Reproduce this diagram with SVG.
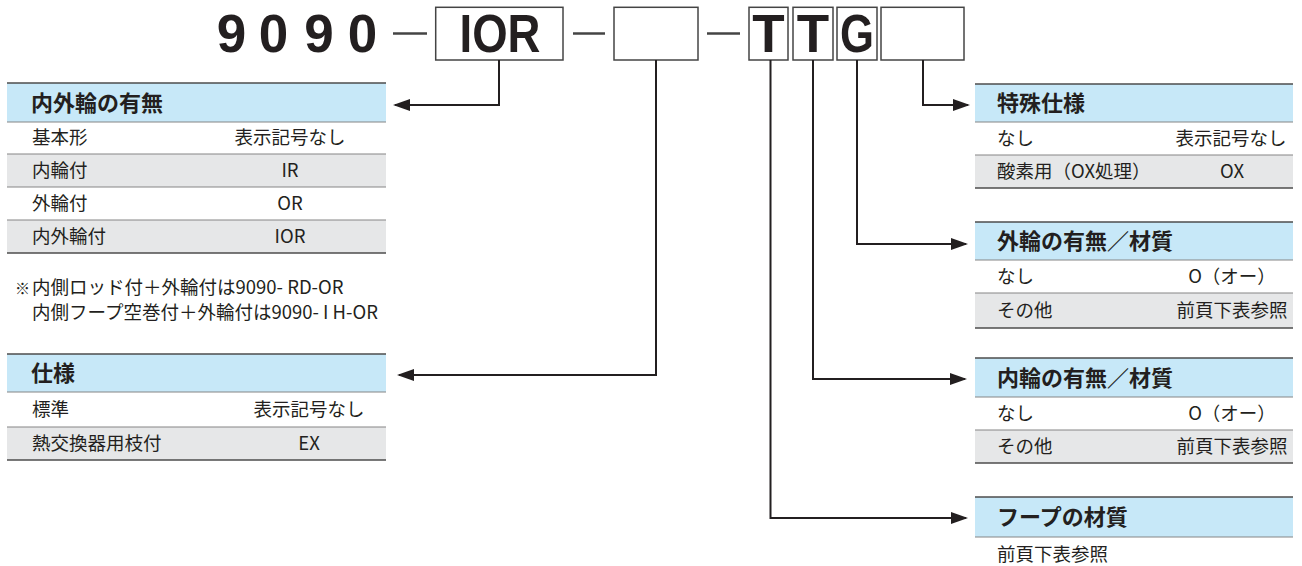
<svg xmlns="http://www.w3.org/2000/svg" width="1302" height="566" viewBox="0 0 1302 566">
<defs>
<marker id="ah" markerUnits="userSpaceOnUse" markerWidth="17" markerHeight="12" refX="15" refY="6" orient="auto">
<path d="M0,0 L17,6 L0,12 Z" fill="#231f20"/>
</marker>
<style>
.bg{fill:#ffffff}
.hd{fill:#c7e8f8}
.gr{fill:#e6e7e8}
.tl{stroke:#4d4d4d;stroke-width:1.5;fill:none}
.il{stroke:#858585;stroke-width:1.2;fill:none}
.ht{font-family:"Noto Sans CJK JP","Noto Sans",sans-serif;font-weight:700;font-size:22px;fill:#231f20}
.rt{font-family:"Noto Sans CJK JP","Noto Sans",sans-serif;font-weight:400;font-size:18.5px;fill:#231f20}
.rc{text-anchor:middle}
.big{font-family:"Liberation Sans","Noto Sans",sans-serif;font-weight:700;font-size:53px;fill:#231f20;text-anchor:middle}
.box{fill:#ffffff;stroke:#444444;stroke-width:1.5}
.dash{stroke:#444444;stroke-width:2.5}
.con{fill:none;stroke:#231f20;stroke-width:2;marker-end:url(#ah)}
</style>
</defs>
<rect width="1302" height="566" fill="#ffffff"/>

<g id="code">
<text class="big" x="231.5" y="52">9</text>
<text class="big" x="273.5" y="52">0</text>
<text class="big" x="319" y="52">9</text>
<text class="big" x="362.5" y="52">0</text>
<line class="dash" x1="393" y1="33.5" x2="427" y2="33.5"/>
<rect class="box" x="435.7" y="7.3" width="127.3" height="52.7"/>
<text class="big" x="500" y="52" textLength="81" lengthAdjust="spacingAndGlyphs">IOR</text>
<line class="dash" x1="573" y1="33.5" x2="605" y2="33.5"/>
<rect class="box" x="614" y="7.3" width="84" height="52.7"/>
<line class="dash" x1="707" y1="33.5" x2="740" y2="33.5"/>
<rect class="box" x="749" y="7.3" width="39" height="52.7"/>
<text class="big" x="768.5" y="52">T</text>
<rect class="box" x="793" y="7.3" width="40" height="52.7"/>
<text class="big" x="813" y="52">T</text>
<rect class="box" x="837" y="7.3" width="40" height="52.7"/>
<text class="big" x="857" y="52" textLength="34" lengthAdjust="spacingAndGlyphs">G</text>
<rect class="box" x="881" y="7.3" width="83" height="52.7"/>
</g>

<g id="connectors">
<path class="con" d="M499,60 V105 H395"/>
<path class="con" d="M656,60 V375 H399"/>
<path class="con" d="M770.5,60 V518 H966"/>
<path class="con" d="M813,60 V379 H965"/>
<path class="con" d="M857,60 V244 H966"/>
<path class="con" d="M923,60 V105 H968"/>
</g>

<g id="table-inner-outer">
<rect class="hd" x="7" y="83" width="379" height="39"/>
<rect class="bg" x="7" y="122" width="379" height="32"/>
<rect class="gr" x="7" y="154" width="379" height="33"/>
<rect class="bg" x="7" y="187" width="379" height="33"/>
<rect class="gr" x="7" y="220" width="379" height="33"/>
<line class="tl" x1="7" y1="83" x2="386" y2="83"/>
<line class="il" x1="7" y1="122" x2="386" y2="122"/>
<line class="il" x1="7" y1="154" x2="386" y2="154"/>
<line class="il" x1="7" y1="187" x2="386" y2="187"/>
<line class="il" x1="7" y1="220" x2="386" y2="220"/>
<line class="tl" x1="7" y1="253" x2="386" y2="253"/>
<text class="ht" x="31" y="111">内外輪の有無</text>
<text class="rt" x="32" y="144">基本形</text>
<text class="rt rc" x="290" y="144">表示記号なし</text>
<text class="rt" x="32" y="177">内輪付</text>
<text class="rt rc" x="290" y="177">IR</text>
<text class="rt" x="32" y="210">外輪付</text>
<text class="rt rc" x="290" y="210">OR</text>
<text class="rt" x="32" y="243">内外輪付</text>
<text class="rt rc" x="290" y="243">IOR</text>
</g>

<g id="note">
<text class="rt" x="15" y="294"><tspan font-size="15">※</tspan><tspan x="32">内側ロッド付＋外輪付は9090- RD-OR</tspan></text>
<text class="rt" x="32" y="319">内側フープ空巻付＋外輪付は9090- I H-OR</text>
</g>

<g id="table-spec">
<rect class="hd" x="7" y="354" width="379" height="38"/>
<rect class="bg" x="7" y="392" width="379" height="35"/>
<rect class="gr" x="7" y="427" width="379" height="33"/>
<line class="tl" x1="7" y1="354" x2="386" y2="354"/>
<line class="il" x1="7" y1="392" x2="386" y2="392"/>
<line class="il" x1="7" y1="427" x2="386" y2="427"/>
<line class="tl" x1="7" y1="460" x2="386" y2="460"/>
<text class="ht" x="31" y="381">仕様</text>
<text class="rt" x="32" y="416">標準</text>
<text class="rt rc" x="309" y="416">表示記号なし</text>
<text class="rt" x="32" y="450">熱交換器用枝付</text>
<text class="rt rc" x="309" y="450">EX</text>
</g>

<g id="table-special">
<rect class="hd" x="975" y="84" width="318" height="38"/>
<rect class="bg" x="975" y="122" width="318" height="33"/>
<rect class="gr" x="975" y="155" width="318" height="33"/>
<line class="tl" x1="975" y1="84" x2="1293" y2="84"/>
<line class="il" x1="975" y1="122" x2="1293" y2="122"/>
<line class="il" x1="975" y1="155" x2="1293" y2="155"/>
<line class="tl" x1="975" y1="188" x2="1293" y2="188"/>
<text class="ht" x="997" y="111">特殊仕様</text>
<text class="rt" x="997" y="145">なし</text>
<text class="rt rc" x="1231" y="145">表示記号なし</text>
<text class="rt" x="997" y="178">酸素用（OX処理）</text>
<text class="rt rc" x="1232" y="178">OX</text>
</g>

<g id="table-outer-ring">
<rect class="hd" x="975" y="222" width="318" height="38"/>
<rect class="bg" x="975" y="260" width="318" height="33"/>
<rect class="gr" x="975" y="293" width="318" height="35"/>
<line class="tl" x1="975" y1="222" x2="1293" y2="222"/>
<line class="il" x1="975" y1="260" x2="1293" y2="260"/>
<line class="il" x1="975" y1="293" x2="1293" y2="293"/>
<line class="tl" x1="975" y1="328" x2="1293" y2="328"/>
<text class="ht" x="997" y="249">外輪の有無／材質</text>
<text class="rt" x="997" y="283">なし</text>
<text class="rt rc" x="1232" y="283">O（オー）</text>
<text class="rt" x="997" y="317">その他</text>
<text class="rt rc" x="1232" y="317">前頁下表参照</text>
</g>

<g id="table-inner-ring">
<rect class="hd" x="975" y="358" width="318" height="39"/>
<rect class="bg" x="975" y="397" width="318" height="33"/>
<rect class="gr" x="975" y="430" width="318" height="33"/>
<line class="tl" x1="975" y1="358" x2="1293" y2="358"/>
<line class="il" x1="975" y1="397" x2="1293" y2="397"/>
<line class="il" x1="975" y1="430" x2="1293" y2="430"/>
<line class="tl" x1="975" y1="463" x2="1293" y2="463"/>
<text class="ht" x="997" y="386">内輪の有無／材質</text>
<text class="rt" x="997" y="420">なし</text>
<text class="rt rc" x="1232" y="420">O（オー）</text>
<text class="rt" x="997" y="453">その他</text>
<text class="rt rc" x="1232" y="453">前頁下表参照</text>
</g>

<g id="table-hoop">
<rect class="hd" x="975" y="497" width="318" height="40"/>
<line class="tl" x1="975" y1="497" x2="1293" y2="497"/>
<line class="il" x1="975" y1="537" x2="1293" y2="537"/>
<text class="ht" x="997" y="525">フープの材質</text>
<text class="rt" x="997" y="561" font-size="18">前頁下表参照</text>
</g>
</svg>
